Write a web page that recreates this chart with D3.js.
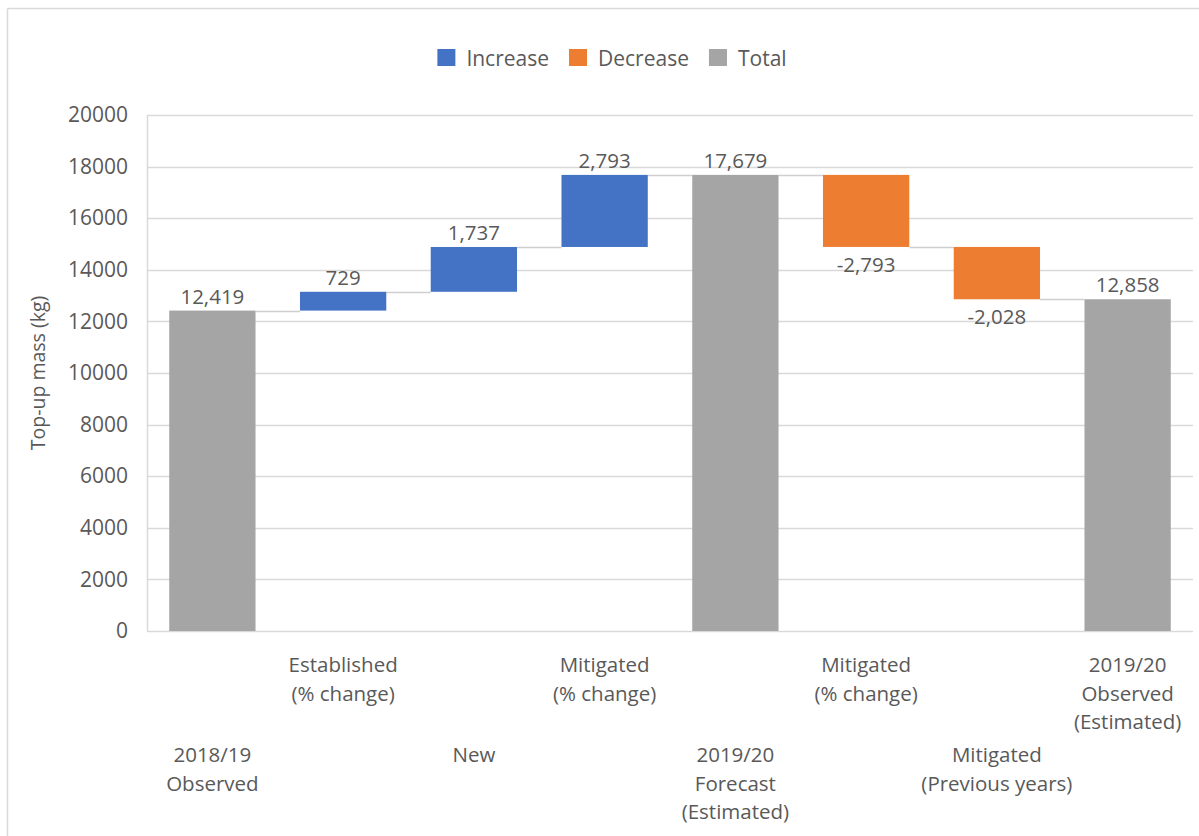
<!DOCTYPE html>
<html>
<head>
<meta charset="utf-8">
<script src="https://cdn.jsdelivr.net/npm/d3@7"></script>
<style>
  html, body { margin: 0; padding: 0; background: #fff; }
  svg text { font-family: "Open Sans", "Noto Sans", sans-serif; fill: #595959; }
</style>
</head>
<body>
<svg id="chart" width="1199" height="836"></svg>
<script>
// ---- data ----
const categories = [
  ["2018/19", "Observed"],
  ["Established", "(% change)"],
  ["New"],
  ["Mitigated", "(% change)"],
  ["2019/20", "Forecast", "(Estimated)"],
  ["Mitigated", "(% change)"],
  ["Mitigated", "(Previous years)"],
  ["2019/20", "Observed", "(Estimated)"]
];
const values = [12419, 729, 1737, 2793, 17679, -2793, -2028, 12858];
const types = ["total", "increase", "increase", "increase", "total", "decrease", "decrease", "total"];
const yTicks = [0, 2000, 4000, 6000, 8000, 10000, 12000, 14000, 16000, 18000, 20000];
const legendItems = ["Increase", "Decrease", "Total"];
const legendTypes = ["increase", "decrease", "total"];
const yTitle = "Top-up mass (kg)";

const colors = { increase: "#4472C4", decrease: "#ED7D31", total: "#A5A5A5" };

// ---- layout ----
const W = 1199, H = 836;
const plot = { left: 147, right: 1193, top: 115, bottom: 631 };
const svg = d3.select("#chart");

// frame (top and left edges visible)
svg.append("line").attr("x1", 7.5).attr("x2", W).attr("y1", 8.5).attr("y2", 8.5)
  .attr("stroke", "#d9d9d9").attr("stroke-width", 1.5);
svg.append("line").attr("x1", 7.5).attr("x2", 7.5).attr("y1", 8.5).attr("y2", H)
  .attr("stroke", "#d9d9d9").attr("stroke-width", 1.5);

const x = d3.scaleBand().domain(d3.range(categories.length))
  .range([plot.left, plot.right]).paddingInner(0.34).paddingOuter(0.17);
const y = d3.scaleLinear().domain([0, 20000]).range([plot.bottom, plot.top]);

// compute waterfall segments
let running = 0;
const bars = values.map((v, i) => {
  let start, end;
  if (types[i] === "total") { start = 0; end = v; running = v; }
  else { start = running; end = running + v; running = end; }
  return { i, v, type: types[i], start, end };
});

// gridlines
svg.append("g").selectAll("line").data(yTicks).join("line")
  .attr("x1", plot.left).attr("x2", plot.right)
  .attr("y1", d => Math.round(y(d)) + 0.5).attr("y2", d => Math.round(y(d)) + 0.5)
  .attr("stroke", "#d9d9d9").attr("stroke-width", 1.5);
// left plot edge
svg.append("line").attr("x1", plot.left + 0.5).attr("x2", plot.left + 0.5)
  .attr("y1", plot.top).attr("y2", plot.bottom)
  .attr("stroke", "#d9d9d9").attr("stroke-width", 1.5);

// y axis via d3 axis
const yAxis = d3.axisLeft(y).tickValues(yTicks).tickFormat(d3.format("d")).tickSize(0).tickPadding(19);
const yg = svg.append("g").attr("transform", `translate(${plot.left},0)`).call(yAxis);
yg.select(".domain").remove();
yg.selectAll("text").style("font-size", "21px").style("fill", "#595959")
  .style("font-family", "'Open Sans', 'Noto Sans', sans-serif");

// y title
svg.append("text").attr("transform", `translate(45,${(plot.top + plot.bottom) / 2}) rotate(-90)`)
  .attr("text-anchor", "middle").style("font-size", "19.5px").text(yTitle);

// connectors
svg.append("g").selectAll("line").data(bars.slice(0, -1)).join("line")
  .attr("x1", d => x(d.i) + x.bandwidth())
  .attr("x2", d => x(d.i + 1))
  .attr("y1", d => Math.round(y(d.end)) + 0.5)
  .attr("y2", d => Math.round(y(d.end)) + 0.5)
  .attr("stroke", "#cfcfcf").attr("stroke-width", 1.5);

// bars
svg.append("g").selectAll("rect").data(bars).join("rect")
  .attr("x", d => x(d.i))
  .attr("width", x.bandwidth())
  .attr("y", d => y(Math.max(d.start, d.end)))
  .attr("height", d => Math.abs(y(d.start) - y(d.end)))
  .attr("fill", d => colors[d.type]);

// value labels
const fmt = v => d3.format(",")(v).replace("\u2212", "-");
svg.append("g").selectAll("text").data(bars).join("text")
  .attr("x", d => x(d.i) + x.bandwidth() / 2)
  .attr("y", d => d.type === "decrease" ? y(d.end) + 25 : y(d.end) - 7)
  .attr("text-anchor", "middle")
  .style("font-size", "20.5px")
  .text(d => fmt(d.v));

// x category labels (staggered)
const xg = svg.append("g");
categories.forEach((lines, i) => {
  const cx = x(i) + x.bandwidth() / 2;
  const firstY = (i % 2 === 1) ? 672 : 762;
  const t = xg.append("text").attr("text-anchor", "middle").style("font-size", "20.5px");
  lines.forEach((ln, k) => {
    t.append("tspan").attr("x", cx).attr("y", firstY + k * 28.7).text(ln);
  });
});

// legend
const lg = svg.append("g");
let lx = 0;
legendItems.forEach((name, k) => {
  const g = lg.append("g");
  g.append("rect").attr("x", 0).attr("y", -9).attr("width", 18).attr("height", 17)
    .attr("fill", colors[legendTypes[k]]);
  const t = g.append("text").attr("x", 29).attr("y", 7.5).style("font-size", "21px").text(name);
  const w = 29 + t.node().getComputedTextLength();
  g.attr("transform", `translate(${lx},0)`);
  lx += w + 20;
});
const totalW = lx - 20;
lg.attr("transform", `translate(${612 - totalW / 2},58)`);
</script>
</body>
</html>
